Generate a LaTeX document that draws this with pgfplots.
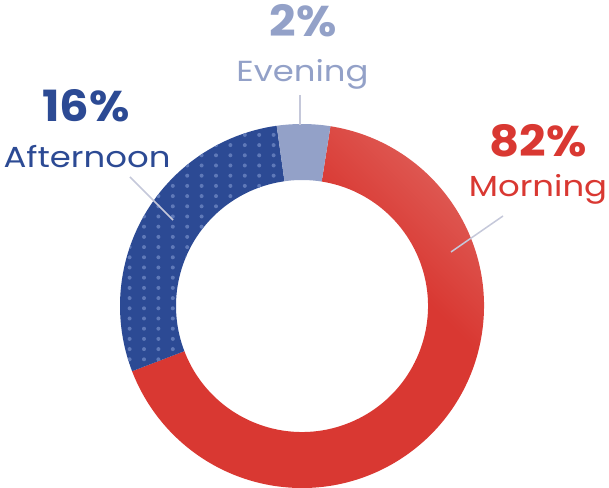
\documentclass[border=0pt]{standalone}
\usepackage{pgfplots}
\pgfplotsset{compat=1.18}
\usepackage{fontspec}
\setmainfont{Poppins}
\newfontfamily\namefont[FakeStretch=1.17]{Poppins}
\newfontfamily\numfont[FakeStretch=1.08]{Poppins}
\definecolor{mred}{HTML}{D93832}
\definecolor{mlight}{HTML}{E0655F}
\definecolor{ablue}{HTML}{2C4A94}
\definecolor{adot}{HTML}{5F79B8}
\definecolor{eblue}{HTML}{93A1C8}
\definecolor{leader}{HTML}{C5C8DA}
\pgfdeclareverticalshading{mshade}{100bp}{color(0bp)=(mred); color(62bp)=(mred); color(80bp)=(mlight); color(100bp)=(mlight)}
\begin{document}
\begin{tikzpicture}
\begin{axis}[
  width=609pt, height=487pt, scale only axis,
  xmin=0, xmax=609, ymin=0, ymax=487,
  hide axis, clip=true]
% slices: start angle, end angle (as drawn), centre (302,181), outer 182, inner 126
% Morning (82%): 81 -> -159 ; Afternoon (16%): 98 -> 201 ; Evening (2%): 81 -> 98
\shade[shading=mshade, shading angle=-45]
  (axis cs:302,181) ++(81:182pt) arc[start angle=81, end angle=-159, radius=182pt]
  -- ([shift={(-159:126pt)}]axis cs:302,181) arc[start angle=-159, end angle=81, radius=126pt] -- cycle;
\fill[ablue]
  (axis cs:302,181) ++(98:182pt) arc[start angle=98, end angle=201, radius=182pt]
  -- ([shift={(201:126pt)}]axis cs:302,181) arc[start angle=201, end angle=98, radius=126pt] -- cycle;
\begin{scope}
\clip
  (axis cs:302,181) ++(98:182pt) arc[start angle=98, end angle=201, radius=182pt]
  -- ([shift={(201:126pt)}]axis cs:302,181) arc[start angle=201, end angle=98, radius=126pt] -- cycle;
\foreach \i in {-2,...,11}{
  \foreach \j in {-15,...,11}{
    \edef\tmp{\noexpand\fill[adot] (axis cs:{144+14.4*\i},{260.3+10.2*\j}) circle[radius=2pt];}\tmp
  }
}
\end{scope}
\fill[eblue]
  (axis cs:302,181) ++(81:182pt) arc[start angle=81, end angle=98, radius=182pt]
  -- ([shift={(98:126pt)}]axis cs:302,181) arc[start angle=98, end angle=81, radius=126pt] -- cycle;
% leader lines
\draw[leader, line width=1.5pt] (axis cs:300,392) -- (axis cs:300,362);
\draw[leader, line width=1.5pt] (axis cs:130,310) -- (axis cs:173,267);
\draw[leader, line width=1.5pt] (axis cs:503,271) -- (axis cs:451,235);
% labels
\node[anchor=base, text=eblue, font=\numfont\fontsize{43}{43}\selectfont\bfseries, inner sep=0pt] at (axis cs:303,450) {2\%};
\node[anchor=base, text=eblue, font=\namefont\fontsize{29}{29}\selectfont, inner sep=0pt] at (axis cs:302.5,405) {Evening};
\node[anchor=base, text=ablue, font=\numfont\fontsize{43}{43}\selectfont\bfseries, inner sep=0pt] at (axis cs:86,365) {16\%};
\node[anchor=base, text=ablue, font=\namefont\fontsize{29}{29}\selectfont, inner sep=0pt] at (axis cs:87,319) {Afternoon};
\node[anchor=base, text=mred, font=\numfont\fontsize{43}{43}\selectfont\bfseries, inner sep=0pt] at (axis cs:538,330) {82\%};
\node[anchor=base, text=mred, font=\namefont\fontsize{29}{29}\selectfont, inner sep=0pt] at (axis cs:538,290) {Morning};
\end{axis}
\pgfresetboundingbox
\path[use as bounding box] (0,0) rectangle (609pt,487pt);
\end{tikzpicture}
\end{document}
